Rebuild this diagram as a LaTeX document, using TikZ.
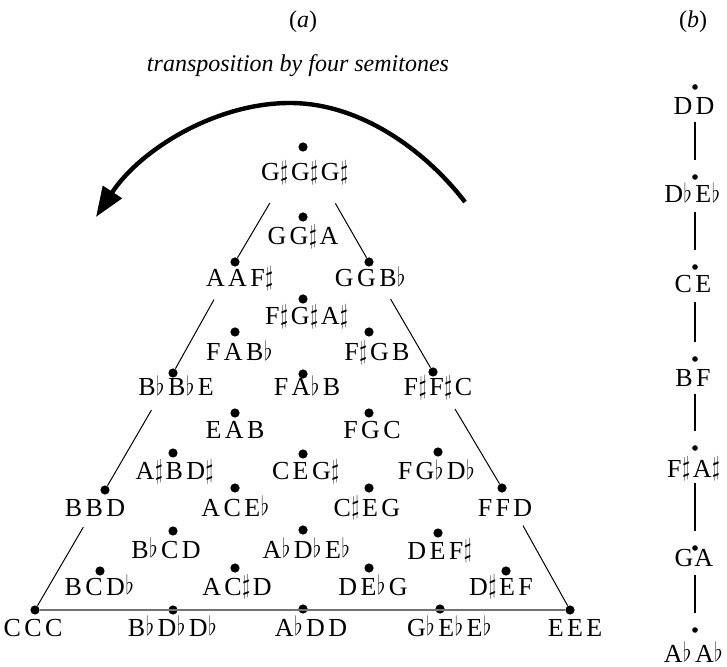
\documentclass[tikz,border=0pt]{standalone}
\usepackage{fontspec}
\setmainfont{Liberation Serif}
\usepackage{graphicx}
\usetikzlibrary{arrows.meta}
\newcommand\ks{\kern1.7pt}
\newcommand\shp{\kern0.3pt\raisebox{0.8pt}{\scalebox{0.85}[1.12]{$\sharp$}}\kern1.4pt}
\newcommand\flt{\kern0.3pt\raisebox{0.3pt}{\scalebox{0.9}[1.1]{$\flat$}}\kern1.8pt}
\tikzset{
  lbl/.style={anchor=base,inner sep=0pt,font=\fontsize{13}{15}\selectfont},
  ttl/.style={anchor=base,inner sep=0pt,font=\fontsize{12}{14}\selectfont},
  bigdot/.style={circle,fill=black,inner sep=0pt,minimum size=4.6pt},
  smalldot/.style={circle,fill=black,inner sep=0pt,minimum size=2.8pt},
  side/.style={draw=black,line width=0.5pt},
  base/.style={draw=black!55,line width=0.9pt},
  chain/.style={draw=black,line width=1.1pt,shorten <=16pt,shorten >=7pt},
  bigarrow/.style={draw=black,line width=2.2pt,-{Triangle[length=15pt,width=11pt]}}
}
\begin{document}
\begin{tikzpicture}[x=0.5pt,y=-0.5pt]
\useasboundingbox (0,0) rectangle (727,667);
% titles
\node[ttl] (ta) at (303,28) {(\textit{a})};
\node[ttl] (tb) at (693,28) {(\textit{b})};
\node[ttl] (tt) at (298,72) {\textit{transposition by four semitones}};
% arrow
\coordinate (arrS) at (465,202);
\coordinate (arrT) at (290,103);
\coordinate (arrE) at (96,217);
\draw[bigarrow] (arrS) .. controls (425,150) and (360,103) .. (arrT) .. controls (215,103) and (140,150) .. (arrE);
% dots of the triangle
\node[bigdot] (d1) at (303,147) {};
\node[bigdot] (d2) at (303,217) {};
\node[bigdot] (d3) at (235,262) {};
\node[bigdot] (d4) at (369,262) {};
\node[bigdot] (d5) at (303,299) {};
\node[bigdot] (d6) at (235,332) {};
\node[bigdot] (d7) at (369,332) {};
\node[bigdot] (d8) at (173,373) {};
\node[bigdot] (d9) at (303,374) {};
\node[bigdot] (d10) at (433,372) {};
\node[bigdot] (d11) at (235,413) {};
\node[bigdot] (d12) at (369,413) {};
\node[bigdot] (d13) at (173,453) {};
\node[bigdot] (d14) at (303,454) {};
\node[bigdot] (d15) at (438,452) {};
\node[bigdot] (d16) at (105,490) {};
\node[bigdot] (d17) at (235,488) {};
\node[bigdot] (d18) at (369,488) {};
\node[bigdot] (d19) at (502,488) {};
\node[bigdot] (d20) at (173,531) {};
\node[bigdot] (d21) at (303,530) {};
\node[bigdot] (d22) at (438,533) {};
\node[bigdot] (d23) at (100,571) {};
\node[bigdot] (d24) at (235,568) {};
\node[bigdot] (d25) at (369,568) {};
\node[bigdot] (d26) at (506,571) {};
\node[bigdot] (d27) at (35,610) {};
\node[bigdot] (d28) at (173,610) {};
\node[bigdot] (d29) at (303,609) {};
\node[bigdot] (d30) at (440,609) {};
\node[bigdot] (d31) at (570,610) {};
% sides
\draw[side,shorten <=30pt] (d1) -- (d3);
\draw[side,shorten <=30pt] (d1) -- (d4);
\draw[side,shorten <=19pt] (d3) -- (d8);
\draw[side,shorten <=19pt] (d8) -- (d16);
\draw[side,shorten <=19pt] (d16) -- (d27);
\draw[side,shorten <=19pt] (d4) -- (d10);
\draw[side,shorten <=19pt] (d10) -- (d19);
\draw[side,shorten <=19pt] (d19) -- (d31);
\draw[base] (d27) -- (d31);
% labels of the triangle
\node[lbl] (l1) at (306,181) {G\shp G\shp G\shp};
\node[lbl] (l2) at (303,245) {G\ks G\shp A};
\node[lbl] (l3) at (241,287) {A\ks A\ks F\shp};
\node[lbl] (l4) at (372,287) {G\ks G\ks B\flt};
\node[lbl] (l5) at (308,325) {F\shp G\shp A\shp};
\node[lbl] (l6) at (241,361) {F\ks A\ks B\flt};
\node[lbl] (l7) at (377,361) {F\shp G\ks B};
\node[lbl] (l8) at (176,396) {B\flt B\flt E};
\node[lbl] (l9) at (307,396) {F\ks A\flt B};
\node[lbl] (l10) at (438,396) {F\shp F\shp C};
\node[lbl] (l11) at (235,438) {E\ks A\ks B};
\node[lbl] (l12) at (372,438) {F\ks G\ks C};
\node[lbl] (l13) at (176,480) {A\shp B\ks D\shp};
\node[lbl] (l14) at (307,480) {C\ks E\ks G\shp};
\node[lbl] (l15) at (438,480) {F\ks G\flt D\flt};
\node[lbl] (l16) at (95,516) {B\ks B\ks D};
\node[lbl] (l17) at (237,516) {A\ks C\ks E\flt};
\node[lbl] (l18) at (367,516) {C\shp E\ks G};
\node[lbl] (l19) at (505,516) {F\ks F\ks D};
\node[lbl] (l20) at (166,558) {B\flt C\ks D};
\node[lbl] (l21) at (308,558) {A\flt D\flt E\flt};
\node[lbl] (l22) at (441,559) {D\ks E\ks F\shp};
\node[lbl] (l23) at (101,595) {B\ks C\ks D\flt};
\node[lbl] (l24) at (237,595) {A\ks C\shp D};
\node[lbl] (l25) at (373,595) {D\ks E\flt G};
\node[lbl] (l26) at (501,595) {D\shp E\ks F};
\node[lbl] (l27) at (33,636) {C\ks C\ks C};
\node[lbl] (l28) at (174,636) {B\flt D\flt D\flt};
\node[lbl] (l29) at (311,636) {A\flt D\ks D};
\node[lbl] (l30) at (451,636) {G\flt E\flt E\flt};
\node[lbl] (l31) at (575,636) {E\ks E\ks E};
% panel (b)
\node[smalldot] (r1) at (695,87) {};
\node[smalldot] (r2) at (695,177) {};
\node[smalldot] (r3) at (695,267) {};
\node[smalldot] (r4) at (695,359) {};
\node[smalldot] (r5) at (695,448) {};
\node[smalldot] (r6) at (695,548) {};
\node[smalldot] (r7) at (695,630) {};
\node[lbl] (m1) at (694,115) {D\ks D};
\node[lbl] (m2) at (694,203) {D\flt E\flt};
\node[lbl] (m3) at (693,293) {C\ks E};
\node[lbl] (m4) at (693,387) {B\ks F};
\node[lbl] (m5) at (695,477) {F\shp A\shp};
\node[lbl] (m6) at (694,566) {G\kern0.5pt A};
\node[lbl] (m7) at (695,662) {A\flt A\flt};
\draw[chain] (r1) -- (r2);
\draw[chain] (r2) -- (r3);
\draw[chain] (r3) -- (r4);
\draw[chain] (r4) -- (r5);
\draw[chain] (r5) -- (r6);
\draw[chain,shorten <=12pt] (r6) -- (r7);
\end{tikzpicture}
\end{document}
